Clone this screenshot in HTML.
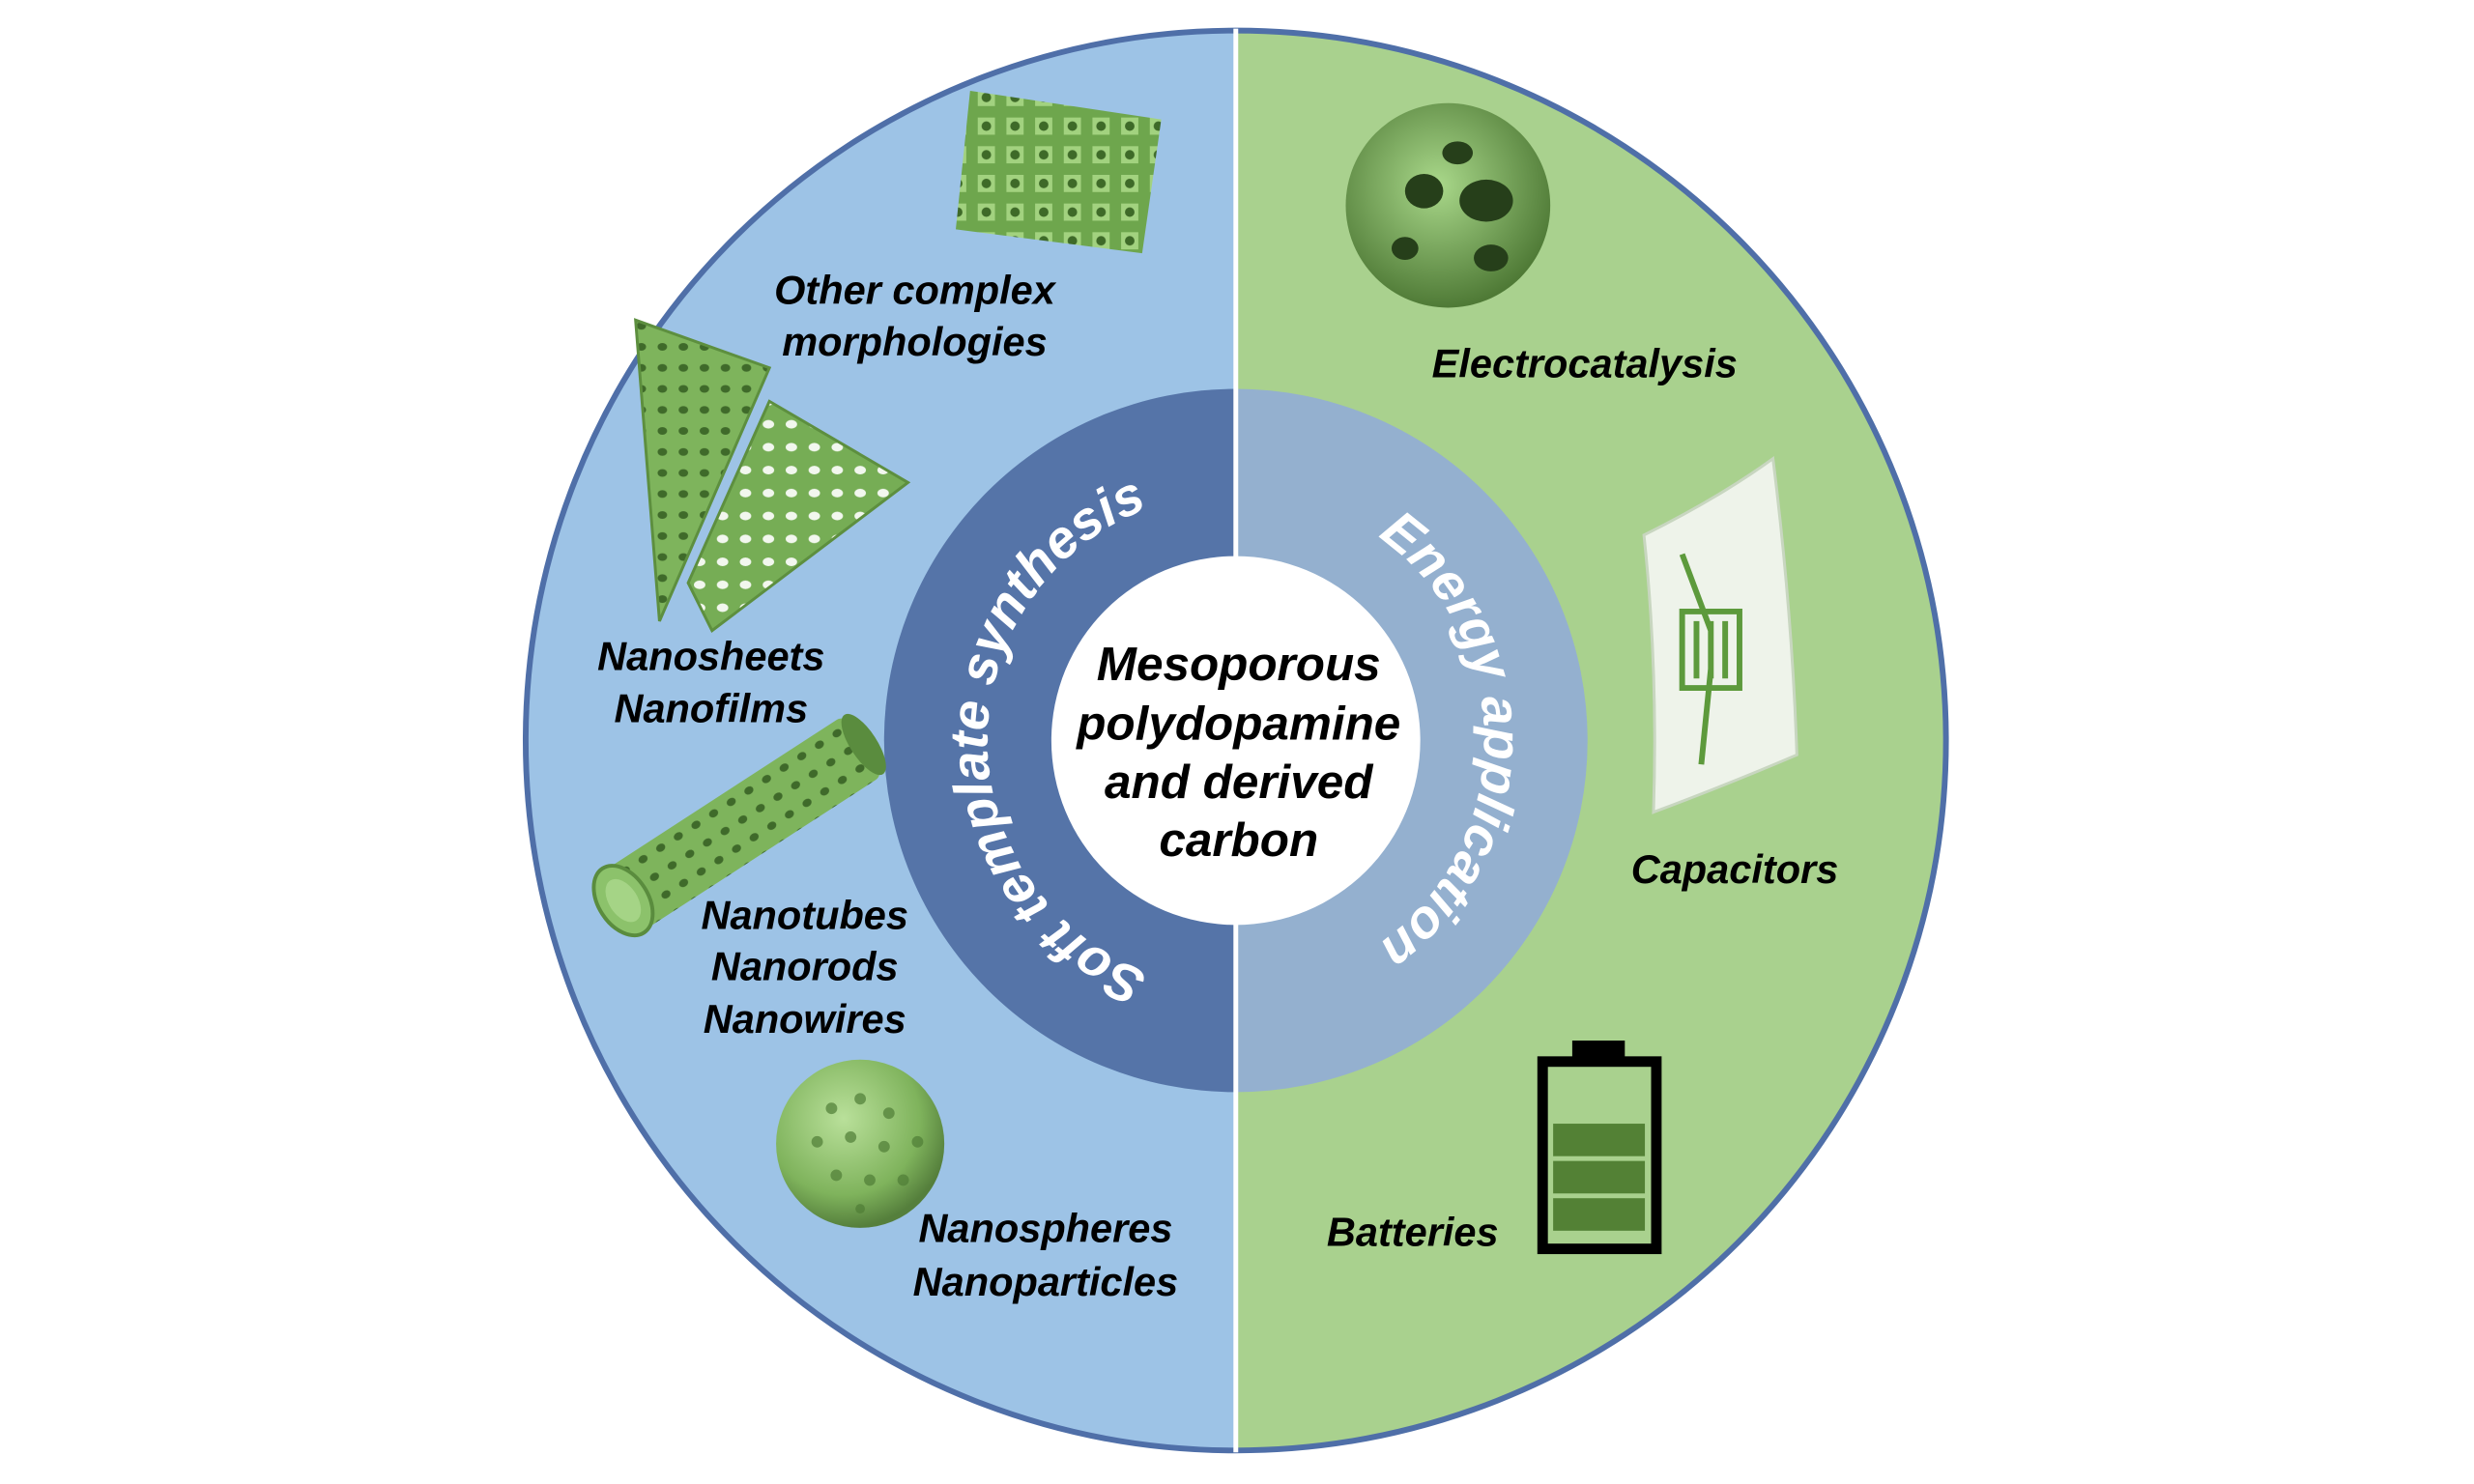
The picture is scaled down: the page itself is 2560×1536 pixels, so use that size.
<!DOCTYPE html>
<html><head><meta charset="utf-8"><style>
html,body{margin:0;padding:0;background:#fff;}
svg{display:block}
text{font-family:"Liberation Sans",sans-serif;font-weight:bold;font-style:italic;}
</style></head><body>
<svg width="2560" height="1536" viewBox="0 0 2560 1536" xmlns="http://www.w3.org/2000/svg">
<defs>
<radialGradient id="sph" cx="40%" cy="35%" r="65%"><stop offset="0" stop-color="#b9e09a"/><stop offset="0.7" stop-color="#7fb35c"/><stop offset="1" stop-color="#557f3c"/></radialGradient>
<radialGradient id="sph2" cx="45%" cy="40%" r="60%"><stop offset="0" stop-color="#a9d88a"/><stop offset="1" stop-color="#4f7a36"/></radialGradient>
<pattern id="holes" width="22" height="22" patternUnits="userSpaceOnUse"><rect width="22" height="22" fill="#7eb45c"/><ellipse cx="11" cy="11" rx="5" ry="4" fill="#3f6a2a"/></pattern>
<pattern id="holesW" width="24" height="24" patternUnits="userSpaceOnUse"><rect width="24" height="24" fill="#76ad55"/><ellipse cx="12" cy="12" rx="6" ry="4.5" fill="#f2f7ee"/></pattern>
<pattern id="hc" width="30" height="30" patternUnits="userSpaceOnUse"><rect width="30" height="30" fill="#6ea64d"/><rect x="3" y="3" width="18" height="18" fill="#a2d27f"/><circle cx="12" cy="12" r="5" fill="#3e6a28"/></pattern>
<path id="leftArc" d="M1293,1035 A260,260 0 0 1 1293,515"/>
<path id="rightArc" d="M1293,515 A260,260 0 0 1 1293,1035"/>
<clipPath id="cc"><circle cx="1293" cy="775" r="743"/></clipPath>
</defs>
<g transform="scale(0.989)">
<g clip-path="url(#cc)">
<rect x="500" y="0" width="793" height="1560" fill="#9dc3e6"/>
<rect x="1293" y="0" width="800" height="1560" fill="#a9d18e"/>
</g>
<circle cx="1293" cy="775" r="743" fill="none" stroke="#4f6fa8" stroke-width="6"/>
<path d="M1293,407 A368,368 0 0 0 1293,1143 Z" fill="#5574a8"/>
<path d="M1293,407 A368,368 0 0 1 1293,1143 Z" fill="#94b0cf"/>
<line x1="1293" y1="30" x2="1293" y2="1520" stroke="#fff" stroke-width="5"/>
<circle cx="1293" cy="775" r="193" fill="#fff"/>
<text font-size="56" fill="#fff"><textPath href="#leftArc" startOffset="50%" text-anchor="middle">Soft template synthesis</textPath></text>
<text font-size="56" fill="#fff"><textPath href="#rightArc" startOffset="50%" text-anchor="middle">Energy application</textPath></text>
<g font-size="50" fill="#000" text-anchor="middle">
<text x="1296" y="712">Mesoporous</text>
<text x="1296" y="774">polydopamine</text>
<text x="1296" y="835">and derived</text>
<text x="1296" y="896">carbon</text>
</g>
<polygon points="1015,95 1215,125 1195,265 1000,240" fill="url(#hc)"/>
<polygon points="665,335 805,385 690,650" fill="url(#holes)" stroke="#5d8f3f" stroke-width="3"/>
<polygon points="805,420 950,505 745,660 720,610" fill="url(#holesW)" stroke="#5d8f3f" stroke-width="3"/>
<g transform="rotate(-33 760 870)">
<rect x="630" y="835" width="300" height="75" fill="url(#holes)" rx="10"/>
<ellipse cx="930" cy="872" rx="14" ry="37" fill="#5a8c3e"/>
<ellipse cx="630" cy="872" rx="26" ry="40" fill="#8cc26b" stroke="#5a8c3e" stroke-width="4"/>
<ellipse cx="630" cy="872" rx="15" ry="25" fill="#a5d486"/>
</g>
<circle cx="900" cy="1197" r="88" fill="url(#sph)"/>
<g fill="#4f7d36" opacity="0.7">
<circle cx="870" cy="1160" r="6"/><circle cx="900" cy="1150" r="6"/><circle cx="930" cy="1165" r="6"/><circle cx="855" cy="1195" r="6"/><circle cx="890" cy="1190" r="6"/><circle cx="925" cy="1200" r="6"/><circle cx="960" cy="1195" r="6"/><circle cx="875" cy="1230" r="6"/><circle cx="910" cy="1235" r="6"/><circle cx="945" cy="1235" r="6"/><circle cx="900" cy="1265" r="5"/>
</g>
<circle cx="1515" cy="215" r="107" fill="url(#sph2)"/>
<g fill="#263f1a"><ellipse cx="1555" cy="210" rx="28" ry="22"/><ellipse cx="1490" cy="200" rx="20" ry="18"/><ellipse cx="1525" cy="160" rx="16" ry="12"/><ellipse cx="1560" cy="270" rx="18" ry="14"/><ellipse cx="1470" cy="260" rx="14" ry="12"/></g>
<path d="M1720,560 Q1800,520 1855,480 Q1875,640 1880,790 Q1810,820 1730,850 Q1735,700 1720,560 Z" fill="#eef3ea" stroke="#c8d6c0" stroke-width="3"/>
<path d="M1760,580 L1790,660 L1790,700 L1780,800 M1760,640 h60 v80 h-60 z M1775,650 v60 M1790,650 v60 M1805,650 v60" fill="none" stroke="#5d9a3c" stroke-width="6"/>
<rect x="1645" y="1089" width="55" height="22" fill="#000"/>
<rect x="1614" y="1111" width="119" height="196" fill="none" stroke="#000" stroke-width="11"/>
<rect x="1625" y="1176" width="96" height="34" fill="#538135"/>
<rect x="1625" y="1215" width="96" height="34" fill="#538135"/>
<rect x="1625" y="1254" width="96" height="34" fill="#538135"/>
<g font-size="42" fill="#000" text-anchor="middle">
<text x="957" y="318">Other complex</text>
<text x="957" y="372">morphologies</text>
<text x="744" y="701">Nanosheets</text>
<text x="744" y="756">Nanofilms</text>
<text x="842" y="972">Nanotubes</text>
<text x="842" y="1026">Nanorods</text>
<text x="842" y="1081">Nanowires</text>
<text x="1094" y="1300">Nanospheres</text>
<text x="1094" y="1356">Nanoparticles</text>
<text x="1658" y="395">Electrocatalysis</text>
<text x="1815" y="924">Capacitors</text>
<text x="1478" y="1304">Batteries</text>
</g>
</g>
</svg>
</body></html>
